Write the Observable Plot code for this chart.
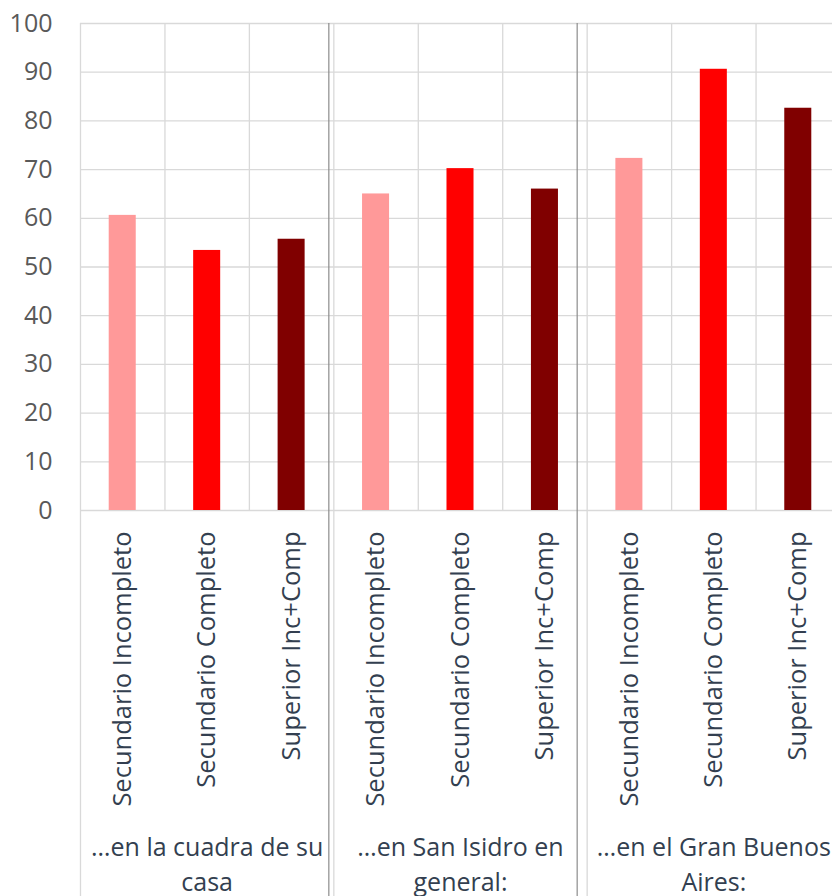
<!DOCTYPE html>
<html><head><meta charset="utf-8">
<script src="https://cdn.jsdelivr.net/npm/d3@7"></script>
<script src="https://cdn.jsdelivr.net/npm/@observablehq/plot@0.6"></script>
<style>
html,body{margin:0;padding:0;overflow:hidden;background:#fff;width:832px;height:896px}
#chart svg{display:block;max-width:none !important;height:896px !important}
</style></head><body><div id="chart"></div>
<script>
// ---- data ----
const groupLine1 = ["…en la cuadra de su", "…en San Isidro en", "…en el Gran Buenos"];
const groupLine2 = ["casa", "general:", "Aires:"];
const levels = ["Secundario Incompleto", "Secundario Completo", "Superior Inc+Comp"];
const colors = ["#FF9999", "#FF0000", "#800000"];
const valuesCuadra = [60.6, 53.4, 55.7];
const valuesSanIsidro = [65.0, 70.2, 66.0];
const valuesGBA = [72.3, 90.6, 82.6];
const yTicks = [0, 10, 20, 30, 40, 50, 60, 70, 80, 90, 100];

// ---- table built from the arrays ----
const seriesValues = [valuesCuadra, valuesSanIsidro, valuesGBA];
const rows = [];
seriesValues.forEach((vals, gi) => vals.forEach((v, li) => rows.push({i: gi * 3 + li, g: gi, level: levels[li], value: v})));
const groupsData = groupLine1.map((t, gi) => ({gi, l1: t, l2: groupLine2[gi]}));
const nCats = rows.length;
const boundaries = d3.range(0, nCats + 1);
const inner = boundaries.filter(b => b % 3 !== 0);
const outer = boundaries.filter(b => b % 3 === 0);

const W = 840, H = 896, mT = 23, mB = 386, mL = 80;
const FONT = "'Open Sans', sans-serif";

const chart = Plot.plot({
  width: W, height: H,
  marginTop: mT, marginBottom: mB, marginLeft: mL, marginRight: 0,
  style: {fontFamily: FONT, background: "#fff", overflow: "visible", maxWidth: "none"},
  x: {domain: [0, nCats], axis: null},
  y: {domain: [0, 100], axis: null},
  color: {domain: levels, range: colors},
  marks: [
    Plot.ruleY(yTicks, {stroke: "#d9d9d9", strokeWidth: 1.3}),
    Plot.ruleX(inner, {stroke: "#d9d9d9", strokeWidth: 1.3}),
    Plot.ruleX(outer, {stroke: "#d9d9d9", strokeWidth: 1.3, insetBottom: -mB}),
    Plot.ruleX([3], {stroke: "#8c8c8c", strokeWidth: 1.2, dx: -5, insetBottom: -mB}),
    Plot.ruleX([6], {stroke: "#8c8c8c", strokeWidth: 1.2, dx: -10, insetBottom: -mB}),
    Plot.rectY(rows, {x1: d => d.i + 0.34, x2: d => d.i + 0.66, y1: 0, y2: "value", fill: "level"}),
    Plot.text(yTicks, {x: 0, y: d => d, text: d => String(d), textAnchor: "end", dx: -28, fontSize: 25, fill: "#595959"}),
    Plot.text(rows, {x: d => d.i + 0.5, y: 0, text: "level", rotate: -90, textAnchor: "end", dy: 21, dx: 0, fontSize: 25.5, fill: "#333F50"}),
    Plot.text(groupsData, {x: d => d.gi * 3 + 1.5, y: 0, text: "l1", dy: 337, fontSize: 25, fill: "#333F50"}),
    Plot.text(groupsData, {x: d => d.gi * 3 + 1.5, y: 0, text: "l2", dy: 372, fontSize: 25, fill: "#333F50"})
  ]
});
document.getElementById("chart").appendChild(chart);
</script>
</body></html>
